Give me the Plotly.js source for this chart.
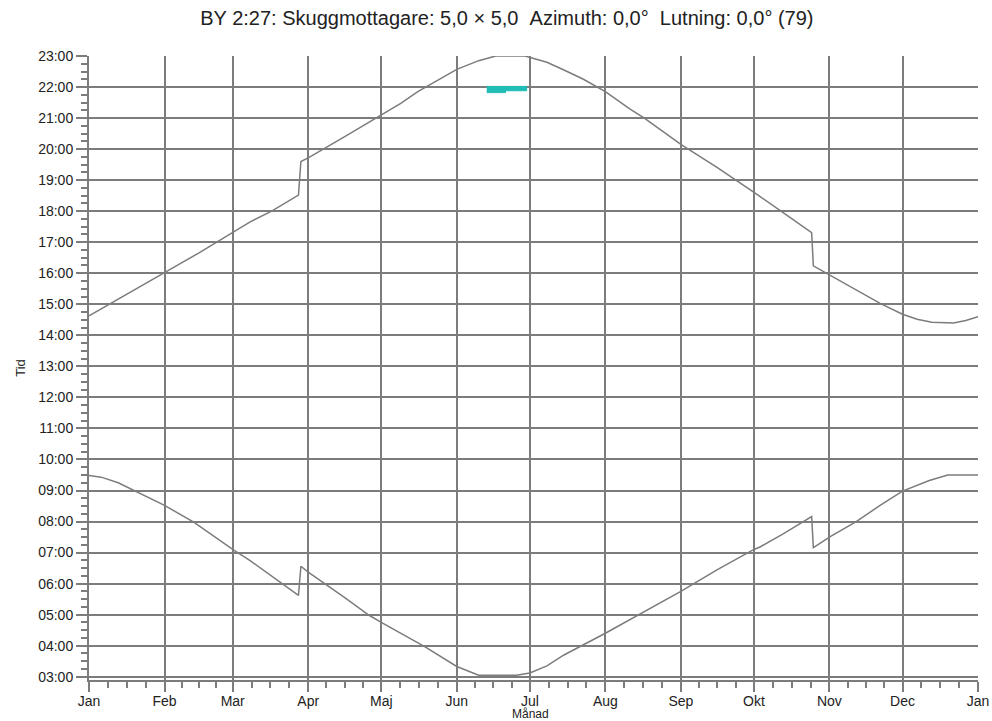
<!DOCTYPE html>
<html><head><meta charset="utf-8">
<script src="https://cdn.plot.ly/plotly-3.0.1.min.js"></script>
<style>html,body{margin:0;padding:0;background:#fff;overflow:hidden}</style>
</head><body><div id="chart" style="width:992px;height:721px"></div>
<script>
// Month starts (day of year) and labels
const monthDays = [0, 31, 59, 90, 120, 151, 181, 212, 243, 273, 304, 334, 365];
const monthLabels = ['Jan','Feb','Mar','Apr','Maj','Jun','Jul','Aug','Sep','Okt','Nov','Dec','Jan'];
const hourTicks = [3,4,5,6,7,8,9,10,11,12,13,14,15,16,17,18,19,20,21,22,23];
const hourLabels = ['03:00','04:00','05:00','06:00','07:00','08:00','09:00','10:00','11:00','12:00','13:00','14:00','15:00','16:00','17:00','18:00','19:00','20:00','21:00','22:00','23:00'];

// Upper boundary (hours) by day of year
const upperDays  = [0, 10, 20, 31, 45, 59, 66, 75, 86, 87, 90, 105, 120, 128, 135, 140, 151, 160, 167, 179, 181, 188, 195, 203, 212, 222, 228, 243, 258, 273, 275, 285, 296.7, 297.4, 304.5, 315, 325, 334, 340, 346, 355, 360, 365];
const upperHours = [14.63, 15.07, 15.52, 16.02, 16.65, 17.3, 17.65, 18.0, 18.52, 19.6, 19.72, 20.4, 21.08, 21.47, 21.85, 22.07, 22.57, 22.85, 23.0, 23.0, 22.95, 22.8, 22.55, 22.25, 21.85, 21.3, 21.0, 20.15, 19.4, 18.62, 18.5, 17.95, 17.31, 16.24, 15.92, 15.45, 15.02, 14.68, 14.52, 14.42, 14.4, 14.48, 14.6];

// Lower boundary (hours) by day of year
const lowerDays  = [0, 5, 12, 19, 31, 43, 59, 66, 75, 86, 87, 90, 105, 115, 120, 138, 151, 160, 175.5, 181, 188, 195, 212, 218, 227, 243, 258, 273, 275.5, 285, 296.7, 297.4, 304.5, 315, 324.8, 334, 345, 352.6, 365];
const lowerHours = [9.48, 9.43, 9.25, 8.98, 8.52, 7.98, 7.1, 6.75, 6.25, 5.62, 6.56, 6.37, 5.55, 4.98, 4.75, 3.96, 3.33, 3.05, 3.05, 3.12, 3.35, 3.7, 4.4, 4.66, 5.05, 5.75, 6.45, 7.1, 7.18, 7.6, 8.16, 7.16, 7.52, 8.0, 8.52, 8.98, 9.32, 9.5, 9.5];

// Shadow region (teal)
const shadowDays = [163.3, 171, 171, 179.7, 179.7, 163.3];
const shadowHours = [21.82, 21.82, 21.88, 21.88, 22.02, 22.02];

const gray = '#7c7c7c';
const font = 'Liberation Sans, Arial, sans-serif';

// minor ticks: quarters of each month
const minorX = [];
for (let i = 0; i < monthDays.length - 1; i++) {
  const a = monthDays[i], b = monthDays[i+1];
  for (let k = 1; k < 4; k++) minorX.push(a + (b - a) * k / 4);
}

const traces = [
  {x: upperDays, y: upperHours, type: 'scatter', mode: 'lines', line: {color: gray, width: 1.5}, hoverinfo: 'skip'},
  {x: lowerDays, y: lowerHours, type: 'scatter', mode: 'lines', line: {color: gray, width: 1.5}, hoverinfo: 'skip'},
  {x: shadowDays, y: shadowHours, type: 'scatter', mode: 'lines', fill: 'toself', fillcolor: '#1fbdb5', line: {color: '#1fbdb5', width: 1}, hoverinfo: 'skip'}
];

const layout = {
  width: 992, height: 721,
  margin: {l: 89, r: 14, t: 55.5, b: 41},
  paper_bgcolor: '#fff', plot_bgcolor: '#fff',
  showlegend: false,
  font: {family: font, size: 14, color: '#222'},
  title: {text: 'BY 2:27: Skuggmottagare: 5,0 × 5,0\u00a0\u00a0Azimuth: 0,0°\u00a0\u00a0Lutning: 0,0° (79)', x: 0.511, xanchor: 'center', y: 0.975, yanchor: 'middle', font: {family: font, size: 20, color: '#222'}},
  xaxis: {
    range: [0, 365], tickmode: 'array', tickvals: monthDays, ticktext: monthLabels,
    showgrid: true, gridcolor: gray, gridwidth: 2, zeroline: false,
    showline: true, linecolor: gray, linewidth: 2,
    ticks: 'outside', ticklen: 10, tickwidth: 2, tickcolor: gray,
    ticklabelstandoff: -3,
    minor: {tickmode: 'array', tickvals: minorX, ticks: 'outside', ticklen: 6, tickwidth: 2, tickcolor: gray, showgrid: false},
    tickfont: {family: font, size: 14, color: '#222'},
    fixedrange: true
  },
  yaxis: {
    range: [2.894, 23], tickmode: 'array', tickvals: hourTicks, ticktext: hourLabels,
    showgrid: true, gridcolor: gray, gridwidth: 2, zeroline: false,
    showline: true, linecolor: gray, linewidth: 2,
    ticks: 'outside', ticklen: 11, tickwidth: 2, tickcolor: gray,
    minor: {dtick: 0.25, tick0: 0, ticks: 'outside', ticklen: 6, tickwidth: 2, tickcolor: gray, showgrid: false},
    tickfont: {family: font, size: 14, color: '#222'},
    title: {text: 'Tid', font: {family: font, size: 13, color: '#222'}, standoff: 10},
    fixedrange: true
  },
  annotations: [
    {text: 'Månad', xref: 'paper', yref: 'paper', x: 0.497, y: -0.0408, xanchor: 'center', yanchor: 'top', showarrow: false, font: {family: font, size: 12, color: '#222'}}
  ]
};

Plotly.newPlot('chart', traces, layout, {displayModeBar: false, staticPlot: true});
</script>
</body></html>
